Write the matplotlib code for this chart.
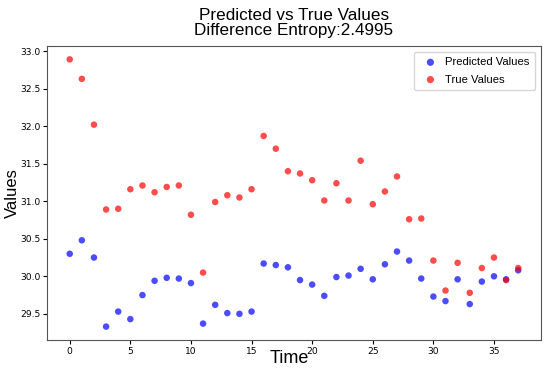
import numpy as np
import matplotlib
matplotlib.use('Agg')
import matplotlib.pyplot as plt

# values
time = np.arange(38)
predicted = [30.30, 30.48, 30.25, 29.33, 29.53, 29.43, 29.75, 29.94, 29.98, 29.97,
             29.91, 29.37, 29.62, 29.51, 29.50, 29.53, 30.17, 30.15, 30.12, 29.95,
             29.89, 29.74, 29.99, 30.01, 30.10, 29.96, 30.16, 30.33, 30.21, 29.97,
             29.73, 29.67, 29.96, 29.63, 29.93, 30.00, 29.96, 30.08]
true_vals = [32.89, 32.63, 32.02, 30.89, 30.90, 31.16, 31.21, 31.12, 31.19, 31.21,
             30.82, 30.05, 30.99, 31.08, 31.05, 31.16, 31.87, 31.70, 31.40, 31.37,
             31.28, 31.01, 31.24, 31.01, 31.54, 30.96, 31.13, 31.33, 30.76, 30.77,
             30.21, 29.81, 30.18, 29.78, 30.11, 30.25, 29.95, 30.11]
entropy = 2.4995

arial = ['Liberation Sans', 'DejaVu Sans']

fig, ax = plt.subplots(figsize=(5.5, 3.74), dpi=100)
ax.scatter(time, predicted, s=22, color='blue', alpha=0.7, edgecolors='none',
           label='Predicted Values')
ax.scatter(time, true_vals, s=22, color='red', alpha=0.7, edgecolors='none',
           label='True Values')

ax.set_title('Predicted vs True Values\nDifference Entropy:%.4f' % entropy,
             fontsize=12.3, family=arial, linespacing=0.95, pad=8)
ax.set_xlabel('Time', fontsize=13, family=arial)
ax.xaxis.set_label_coords(0.49, -0.035, transform=ax.transAxes)
ax.xaxis.label.set_va('top')
ax.set_ylabel('Values', fontsize=12, family=arial, va='center')
ax.yaxis.set_label_coords(-0.071, 0.5)
ax.tick_params(labelsize=6.6, length=3, pad=2)
for sp in ax.spines.values():
    sp.set_color('#555555')

leg = ax.legend(loc='upper right', prop={'family': arial, 'size': 8.1},
                borderpad=0.5, handletextpad=0.3, labelspacing=0.65,
                markerscale=1.1)

fig.subplots_adjust(left=0.086, right=0.983, top=0.877, bottom=0.091)
fig.savefig('out.png', dpi=100)
